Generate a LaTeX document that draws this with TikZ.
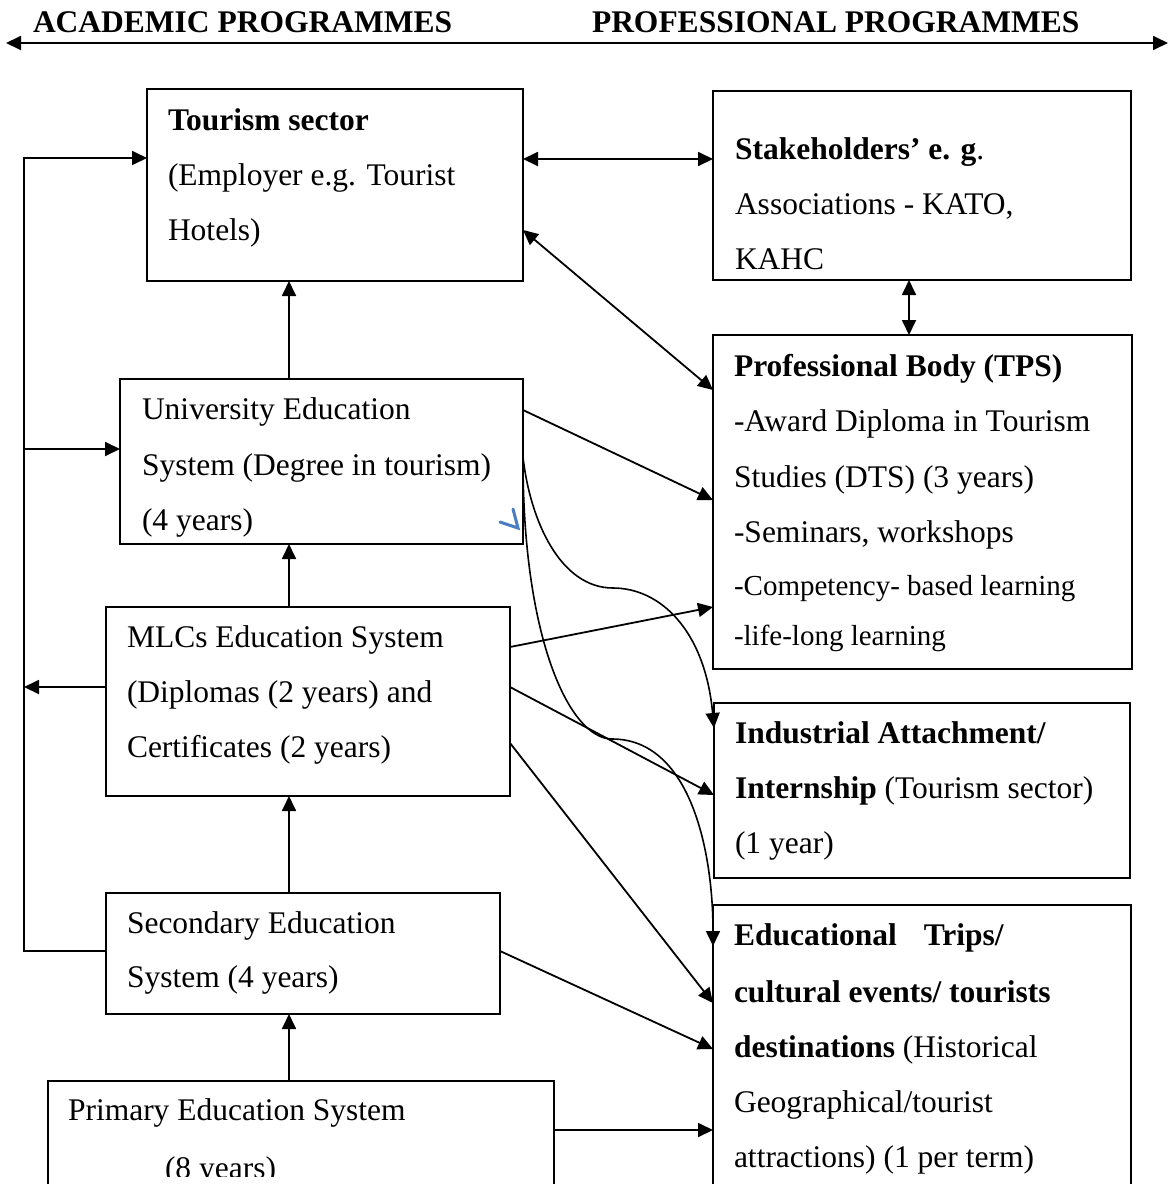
\documentclass[tikz,border=0pt]{standalone}
\usepackage{fontspec}
\setmainfont{Liberation Serif}
\usetikzlibrary{arrows.meta}
\definecolor{markblue}{RGB}{74,126,193}
\begin{document}
\begin{tikzpicture}[x=1pt,y=-1pt,line width=1.8pt,
  box/.style={draw=black,line width=1.8pt,anchor=north west,inner sep=0pt,outer sep=0pt},
  txt/.style={anchor=base west,inner sep=0pt,outer sep=0pt,font=\fontsize{31.5}{38}\selectfont},
  smalltxt/.style={anchor=base west,inner sep=0pt,outer sep=0pt,font=\fontsize{29}{35}\selectfont},
  arr/.style={-{Triangle[length=15pt,width=14pt]}},
  arrr/.style={{Triangle[length=15pt,width=14pt]}-{Triangle[length=15pt,width=14pt]}},
  bluemark/.style={draw=markblue,line width=3pt,line cap=round,line join=miter}]
\useasboundingbox (0,0) rectangle (1170,1184);
\clip (0,0) rectangle (1170,1184);

% headers
\node[txt] (hA) at (33,32) {\textbf{ACADEMIC PROGRAMMES}};
\node[txt] (hP) at (592,32) {\textbf{PROFESSIONAL PROGRAMMES}};
\coordinate (topL) at (6,43);
\coordinate (topR) at (1168,43);
\draw[arrr] (topL) -- (topR);

% boxes
\node[box,minimum width=376pt,minimum height=192pt] (tour) at (147,89) {};
\node[box,minimum width=418pt,minimum height=189pt] (stake) at (713,91) {};
\node[box,minimum width=419pt,minimum height=334pt] (prof) at (713,335) {};
\node[box,minimum width=403pt,minimum height=165pt] (uni) at (120,379) {};
\node[box,minimum width=404pt,minimum height=189pt] (mlc) at (106,607) {};
\node[box,minimum width=416pt,minimum height=175pt] (ind) at (714,703) {};
\node[box,minimum width=394pt,minimum height=121pt] (sec) at (106,893) {};
\node[box,minimum width=418pt,minimum height=300pt] (edu) at (713,905) {};
\node[box,minimum width=506pt,minimum height=150pt] (prim) at (48,1081) {};

% texts
\node[txt] (t1) at (168,130) {\textbf{Tourism sector}};
\node[txt] (t2) at (168,185) {(Employer e.g. Tourist};
\node[txt] (t3) at (168,240) {Hotels)};

\node[txt] (s1) at (735,159) {\textbf{Stakeholders’ e. g}.};
\node[txt] (s2) at (735,214) {Associations - KATO,};
\node[txt] (s3) at (735,269) {KAHC};

\node[txt] (p1) at (734,376) {\textbf{Professional Body (TPS)}};
\node[txt] (p2) at (734,431) {-Award Diploma in Tourism};
\node[txt] (p3) at (734,487) {Studies (DTS) (3 years)};
\node[txt] (p4) at (734,542) {-Seminars, workshops};
\node[smalltxt] (p5) at (734,595) {-Competency- based learning};
\node[smalltxt] (p6) at (734,645) {-life-long learning};

\node[txt] (u1) at (142,419) {University Education};
\node[txt] (u2) at (142,475) {System (Degree in tourism)};
\node[txt] (u3) at (142,530) {(4 years)};

\node[txt] (m1) at (127,647) {MLCs Education System};
\node[txt] (m2) at (127,702) {(Diplomas (2 years) and};
\node[txt] (m3) at (127,757) {Certificates (2 years)};

\node[txt] (i1) at (735,743) {\textbf{Industrial Attachment/}};
\node[txt] (i2) at (735,798) {\textbf{Internship} (Tourism sector)};
\node[txt] (i3) at (735,853) {(1 year)};

\node[txt] (c1) at (127,933) {Secondary Education};
\node[txt] (c2) at (127,987) {System (4 years)};

\node[txt] (e1) at (734,945) {\textbf{Educational}\hspace{27pt}\textbf{Trips/}};
\node[txt] (e2) at (734,1002) {\textbf{cultural events/ tourists}};
\node[txt] (e3) at (734,1057) {\textbf{destinations} (Historical};
\node[txt] (e4) at (734,1112) {Geographical/tourist};
\node[txt] (e5) at (734,1167) {attractions) (1 per term)};

\node[txt] (r1) at (68,1120) {Primary Education System};
\begin{scope}
\clip (150,1140) rectangle (320,1176);
\node[txt] (r2) at (165,1178) {(8 years)};
\end{scope}

% left bus
\coordinate (bustop) at (24,158);
\coordinate (busuni) at (24,449);
\coordinate (busmlc) at (24,687);
\coordinate (busbot) at (24,951);
\draw[arr] (sec.west |- busbot) -- (busbot) -- (bustop) -- (tour.west |- bustop);
\draw[arr] (busuni) -- (uni.west |- busuni);
\draw[arr] (mlc.west |- busmlc) -- (busmlc);

% vertical chain
\coordinate (vx) at (289,0);
\draw[arr] (uni.north -| vx) -- (tour.south -| vx);
\draw[arr] (mlc.north -| vx) -- (uni.south -| vx);
\draw[arr] (sec.north -| vx) -- (mlc.south -| vx);
\draw[arr] (prim.north -| vx) -- (sec.south -| vx);

% right side links
\coordinate (hy) at (0,159);
\draw[arrr] (tour.east |- hy) -- (stake.west |- hy);
\draw[arrr] ([yshift=-141pt]tour.north east) -- ([yshift=-55pt]prof.north west);
\coordinate (vx2) at (909,0);
\draw[arrr] (stake.south -| vx2) -- (prof.north -| vx2);

\draw[arr] ([yshift=-31pt]uni.north east) -- ([yshift=-165pt]prof.north west);
\draw[arr] ([yshift=-40pt]mlc.north east) -- ([yshift=-272pt]prof.north west);
\draw[arr] ([yshift=-80pt]mlc.north east) -- ([yshift=-92pt]ind.north west);
\draw[arr] ([yshift=-136pt]mlc.north east) -- ([yshift=-98pt]edu.north west);
\draw[arr] ([yshift=-58pt]sec.north east) -- ([yshift=-144pt]edu.north west);
\draw[arr] ([yshift=-49pt]prim.north east) -- ([yshift=-225pt]edu.north west);

% curved links
\draw[arr,line width=1.6pt] ([yshift=-78pt]uni.north east) .. controls (530,520) and (560,588) .. (613,588)
  .. controls (660,588) and (705,630) .. ([yshift=-25pt]ind.north west);
\draw[arr,line width=1.6pt] ([yshift=-81pt]uni.north east) .. controls (523,640) and (570,739) .. (612,739)
  .. controls (690,739) and (713,850) .. ([yshift=-41pt]edu.north west);

% stray blue mark
\draw[bluemark] (500,522) -- (518,528) -- (513,509);
\end{tikzpicture}
\end{document}
